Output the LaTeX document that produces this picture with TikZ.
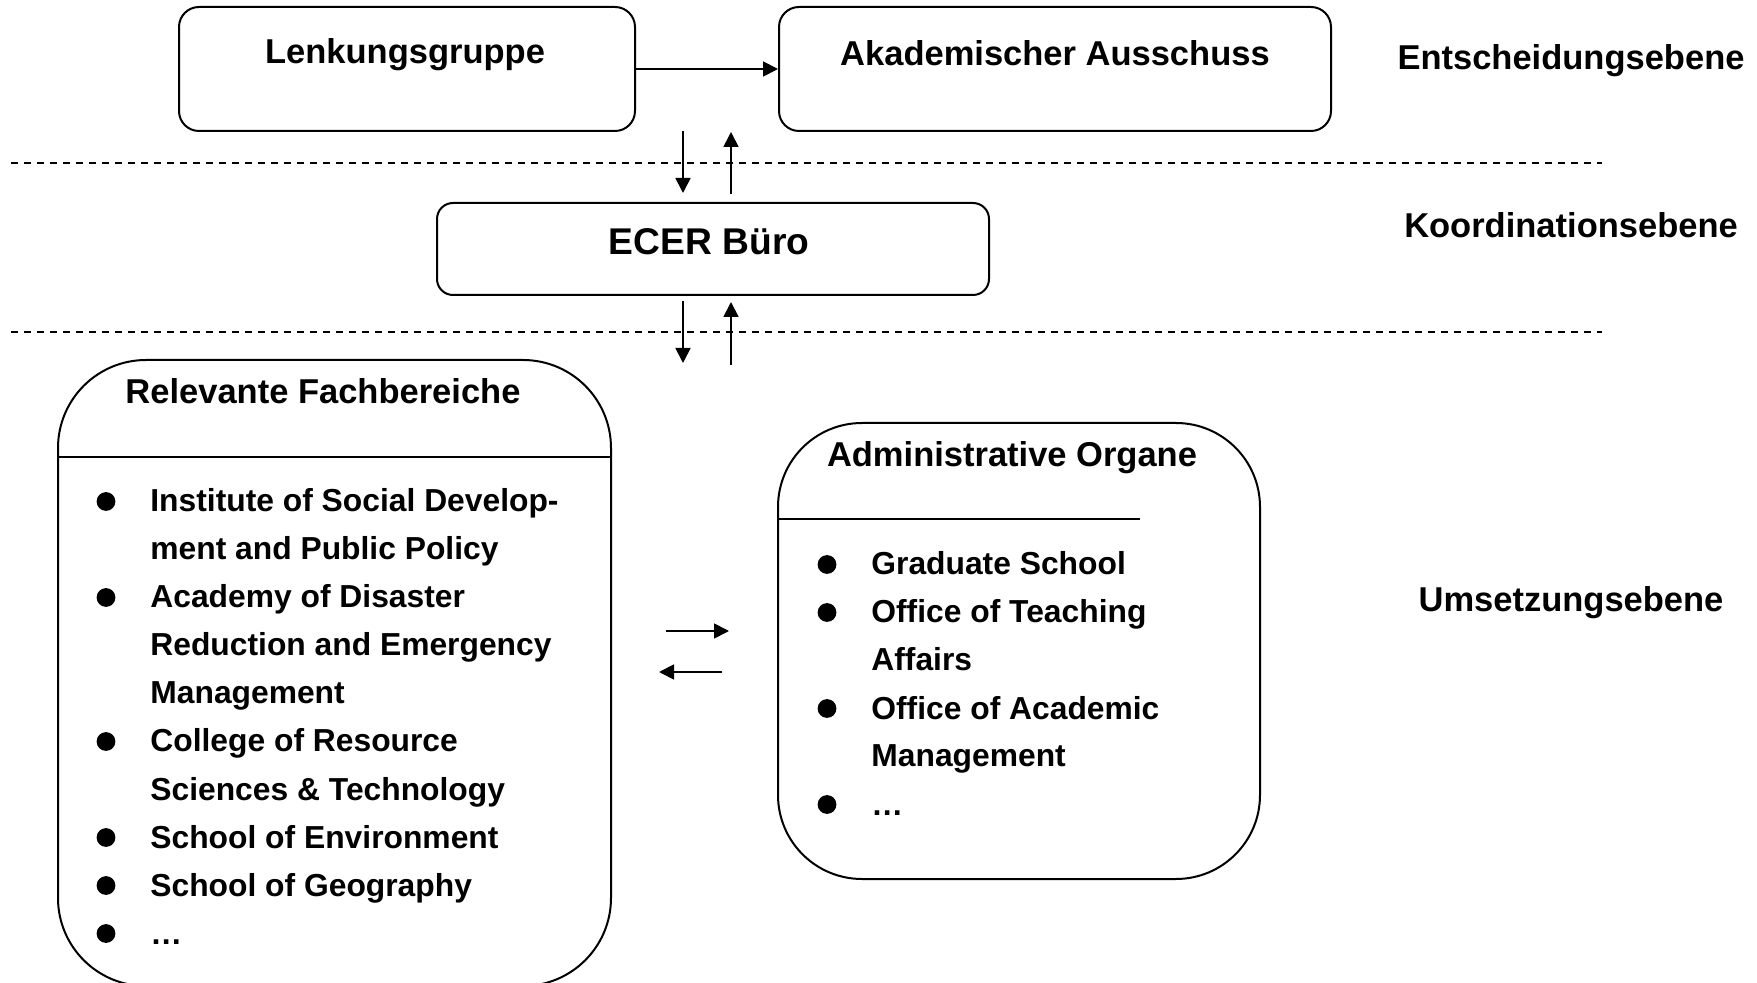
\documentclass[tikz,border=0pt]{standalone}
\usepackage{fontspec}
\setmainfont{Liberation Sans}
\usetikzlibrary{arrows.meta}
\tikzstyle{box}=[draw,line width=1pt,rounded corners=10pt,inner sep=0pt]
\tikzstyle{flow}=[line width=0.9pt,-{Triangle[length=7.5pt,width=7.5pt]}]
\tikzstyle{sepline}=[line width=0.8pt,dash pattern=on 3.5pt off 3pt]
\tikzstyle{txt}=[inner sep=0pt,font=\fontsize{17.25}{20}\selectfont\bfseries]
\tikzstyle{entry}=[inner sep=0pt,anchor=base west,font=\fontsize{15.9}{19}\selectfont\bfseries]
\tikzstyle{dot}=[circle,fill,inner sep=0pt,minimum size=9.4pt]
\begin{document}
\begin{tikzpicture}[x=0.5pt,y=-0.5pt]
\useasboundingbox (0,0) rectangle (1757,983);
\clip (0,0) rectangle (1757,983);
% Entscheidungsebene
\node[box,minimum width=228pt,minimum height=62pt] (LG) at (407,69) {};
\node[box,minimum width=276pt,minimum height=62pt] (AA) at (1055,69) {};
\node[txt,anchor=base] (LGt) at (405,64) {Lenkungsgruppe};
\node[txt,anchor=base] (AAt) at (1055,66) {Akademischer Ausschuss};
\draw[flow] (LG.east) -- (AA.west);
% Koordinationsebene
\node[box,rounded corners=8pt,minimum width=276pt,minimum height=46pt] (EB) at (713,249) {};
\node[txt,anchor=base,font=\fontsize{18.6}{22}\selectfont\bfseries] (EBt) at (709,255) {ECER Büro};
% Ebenen
\coordinate (E1) at (11,163);
\coordinate (E2) at (1602,163);
\coordinate (K1) at (11,332);
\coordinate (K2) at (1602,332);
\draw[sepline] (E1)--(E2);
\draw[sepline] (K1)--(K2);
\node[txt,anchor=base] (EN) at (1571,70) {Entscheidungsebene};
\node[txt,anchor=base] (KO) at (1571,238) {Koordinationsebene};
\node[txt,anchor=base] (UM) at (1571,612) {Umsetzungsebene};
% Pfeile
\coordinate (D1a) at (683,131);
\coordinate (D1b) at (683,193);
\coordinate (U1a) at (731,194);
\coordinate (U1b) at (731,132);
\coordinate (D2a) at (683,301);
\coordinate (D2b) at (683,363);
\coordinate (U2a) at (731,365);
\coordinate (U2b) at (731,302);
\draw[flow] (D1a)--(D1b);
\draw[flow] (U1a)--(U1b);
\draw[flow] (D2a)--(D2b);
\draw[flow] (U2a)--(U2b);
\coordinate (H1a) at (666,631);
\coordinate (H1b) at (729,631);
\coordinate (H2a) at (722,672);
\coordinate (H2b) at (659,672);
\draw[flow] (H1a)--(H1b);
\draw[flow] (H2a)--(H2b);
% Relevante Fachbereiche
\node[box,rounded corners=44pt,minimum width=276.5pt,minimum height=313pt] (RF) at (334.5,673) {};
\coordinate (RFd) at (0,457);
\draw[line width=1pt] (RF.west |- RFd) -- (RF.east |- RFd);
\node[txt,anchor=base] (RFt) at (323,404) {Relevante Fachbereiche};
\node[entry] (RF1) at (150,512) {Institute of Social Develop-};
\node[entry] (RF2) at (150,560) {ment and Public Policy};
\node[entry] (RF3) at (150,608) {Academy of Disaster};
\node[entry] (RF4) at (150,656) {Reduction and Emergency};
\node[entry] (RF5) at (150,704) {Management};
\node[entry] (RF6) at (150,752) {College of Resource};
\node[entry] (RF7) at (150,800) {Sciences \& Technology};
\node[entry] (RF8) at (150,848) {School of Environment};
\node[entry] (RF9) at (150,896) {School of Geography};
\node[entry] (RF10) at (150,944) {…};
\node[dot] (b1) at (106,501.5) {};
\node[dot] (b2) at (106,597.5) {};
\node[dot] (b3) at (106,741.5) {};
\node[dot] (b4) at (106,837.5) {};
\node[dot] (b5) at (106,885.5) {};
\node[dot] (b6) at (106,933.5) {};
% Administrative Organe
\node[box,rounded corners=42pt,minimum width=241pt,minimum height=228pt] (AO) at (1019,651) {};
\coordinate (AOd) at (1140,519);
\draw[line width=1pt] (AO.west |- AOd) -- (AOd);
\node[txt,anchor=base] (AOt) at (1012,467) {Administrative Organe};
\node[entry] (AO1) at (871,575) {Graduate School};
\node[entry] (AO2) at (871,623) {Office of Teaching};
\node[entry] (AO3) at (871,671) {Affairs};
\node[entry] (AO4) at (871,719) {Office of Academic};
\node[entry] (AO5) at (871,767) {Management};
\node[entry] (AO6) at (871,815) {…};
\node[dot] (c1) at (827,564.5) {};
\node[dot] (c2) at (827,612.5) {};
\node[dot] (c3) at (827,708.5) {};
\node[dot] (c4) at (827,804.5) {};
\end{tikzpicture}
\end{document}
